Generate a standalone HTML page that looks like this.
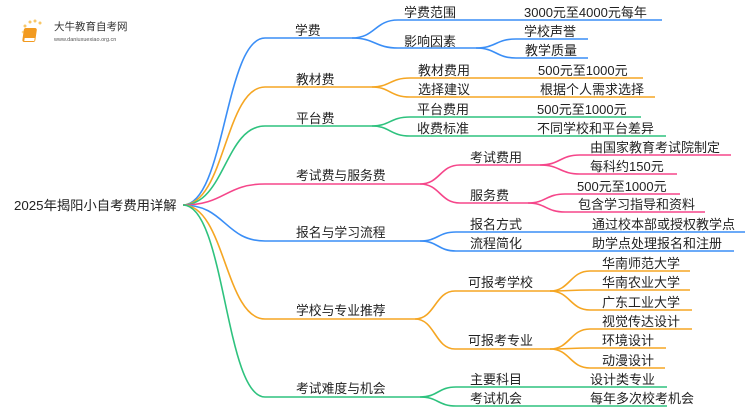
<!DOCTYPE html>
<html><head><meta charset="utf-8"><style>
html,body{margin:0;padding:0;background:#fff;width:750px;height:410px;overflow:hidden}
svg text{font-family:"Liberation Sans","Noto Sans CJK SC",sans-serif;fill:#222}
</style></head><body>
<svg width="750" height="410" viewBox="0 0 750 410" xmlns="http://www.w3.org/2000/svg" fill="none" stroke-width="1.6">
<g>
<circle cx="30" cy="22" r="1.5" fill="#f8c766"/><circle cx="35" cy="21" r="1.5" fill="#f8c766"/><circle cx="40" cy="23" r="1.5" fill="#f8c766"/><circle cx="25" cy="26" r="1.5" fill="#f8c766"/><circle cx="23" cy="32" r="1.3" fill="#fbd98f"/><circle cx="24" cy="38" r="1.2" fill="#fbd98f"/>
<rect x="28" y="28" width="13" height="14" rx="2" fill="#f29a1f" transform="skewX(-8)"/>
<rect x="30" y="38" width="10" height="3" fill="#fff" transform="skewX(-8)"/>
<text x="54" y="30" font-size="10.5" style="fill:#333">大牛教育自考网</text>
<text x="54" y="41" font-size="5.5" style="fill:#555">www.daniuxuexiao.org.cn</text>
</g>
<text x="14" y="210" font-size="13.3">2025年揭阳小自考费用详解</text>
<path d="M183 205 C225 205 225 38 265 38 L352 38" stroke="#3a8ef6"/>
<path d="M183 205 C225 205 225 87 265 87 L372 87" stroke="#f5a623"/>
<path d="M183 205 C225 205 225 126 265 126 L372 126" stroke="#2ec27e"/>
<path d="M183 205 C225 205 225 184 265 184 L420 184" stroke="#f5468a"/>
<path d="M183 205 C225 205 225 241 265 241 L420 241" stroke="#3a8ef6"/>
<path d="M183 205 C225 205 225 319 265 319 L415 319" stroke="#f5a623"/>
<path d="M183 205 C225 205 225 397 265 397 L420 397" stroke="#2ec27e"/>
<g font-size="12.8">
<text x="295" y="35">学费</text>
<text x="296" y="84">教材费</text>
<text x="296" y="123">平台费</text>
<text x="296" y="180">考试费与服务费</text>
<text x="296" y="237">报名与学习流程</text>
<text x="296" y="315">学校与专业推荐</text>
<text x="296" y="393">考试难度与机会</text>
</g>
<g stroke="#3a8ef6">
<path d="M352 38 C375 38 375 20 398 20 L662 20"/>
<path d="M352 38 C375 38 375 48 398 48 L476 48"/>
<path d="M476 48 C496 48 496 39 516 39 L588 39"/>
<path d="M476 48 C496 48 496 58 516 58 L588 58"/>
</g>
<g stroke="#f5a623">
<path d="M372 87 C390 87 390 78 410 78 L643 78"/>
<path d="M372 87 C390 87 390 97 410 97 L655 97"/>
</g>
<g stroke="#2ec27e">
<path d="M372 126 C390 126 390 117 410 117 L641 117"/>
<path d="M372 126 C390 126 390 136 410 136 L666 136"/>
</g>
<g stroke="#f5468a">
<path d="M420 184 C440 184 440 165 460 165 L540 165"/>
<path d="M420 184 C440 184 440 203 460 203 L528 203"/>
<path d="M540 165 C560 165 560 155 580 155 L731 155"/>
<path d="M540 165 C560 165 560 174 580 174 L677 174"/>
<path d="M528 203 C546 203 546 194 565 194 L680 194"/>
<path d="M528 203 C546 203 546 212 565 212 L705 212"/>
</g>
<g stroke="#3a8ef6">
<path d="M420 241 C438 241 438 232 456 232 L745 232"/>
<path d="M420 241 C438 241 438 251 456 251 L734 251"/>
</g>
<g stroke="#f5a623">
<path d="M415 319 C435 319 435 291 455 291 L550 291"/>
<path d="M415 319 C435 319 435 349 455 349 L550 349"/>
<path d="M550 291 C570 291 570 271 590 271 L690 271"/>
<path d="M550 291 C570 291 570 290 590 290 L690 290"/>
<path d="M550 291 C570 291 570 310 590 310 L692 310"/>
<path d="M550 349 C570 349 570 329 590 329 L692 329"/>
<path d="M550 349 C570 349 570 348 590 348 L666 348"/>
<path d="M550 349 C570 349 570 368 590 368 L665 368"/>
</g>
<g stroke="#2ec27e">
<path d="M420 397 C438 397 438 387 456 387 L667 387"/>
<path d="M420 397 C438 397 438 406 456 406 L667 406"/>
</g>
<g font-size="13">
<text x="404" y="17">学费范围</text><text x="524" y="17">3000元至4000元每年</text>
<text x="404" y="46">影响因素</text><text x="524" y="36">学校声誉</text><text x="525" y="55">教学质量</text>
<text x="418" y="75">教材费用</text><text x="538" y="75">500元至1000元</text>
<text x="418" y="94">选择建议</text><text x="540" y="94">根据个人需求选择</text>
<text x="417" y="114">平台费用</text><text x="537" y="114">500元至1000元</text>
<text x="417" y="133">收费标准</text><text x="537" y="133">不同学校和平台差异</text>
<text x="470" y="162">考试费用</text><text x="590" y="152">由国家教育考试院制定</text><text x="590" y="171">每科约150元</text>
<text x="470" y="200">服务费</text><text x="577" y="191">500元至1000元</text><text x="578" y="209">包含学习指导和资料</text>
<text x="470" y="229">报名方式</text><text x="592" y="229">通过校本部或授权教学点</text>
<text x="470" y="248">流程简化</text><text x="592" y="248">助学点处理报名和注册</text>
<text x="468" y="287">可报考学校</text><text x="602" y="268">华南师范大学</text><text x="602" y="287">华南农业大学</text><text x="602" y="307">广东工业大学</text>
<text x="468" y="345">可报考专业</text><text x="602" y="326">视觉传达设计</text><text x="602" y="345">环境设计</text><text x="602" y="365">动漫设计</text>
<text x="470" y="384">主要科目</text><text x="590" y="384">设计类专业</text>
<text x="470" y="403">考试机会</text><text x="590" y="403">每年多次校考机会</text>
</g>
</svg>
</body></html>
